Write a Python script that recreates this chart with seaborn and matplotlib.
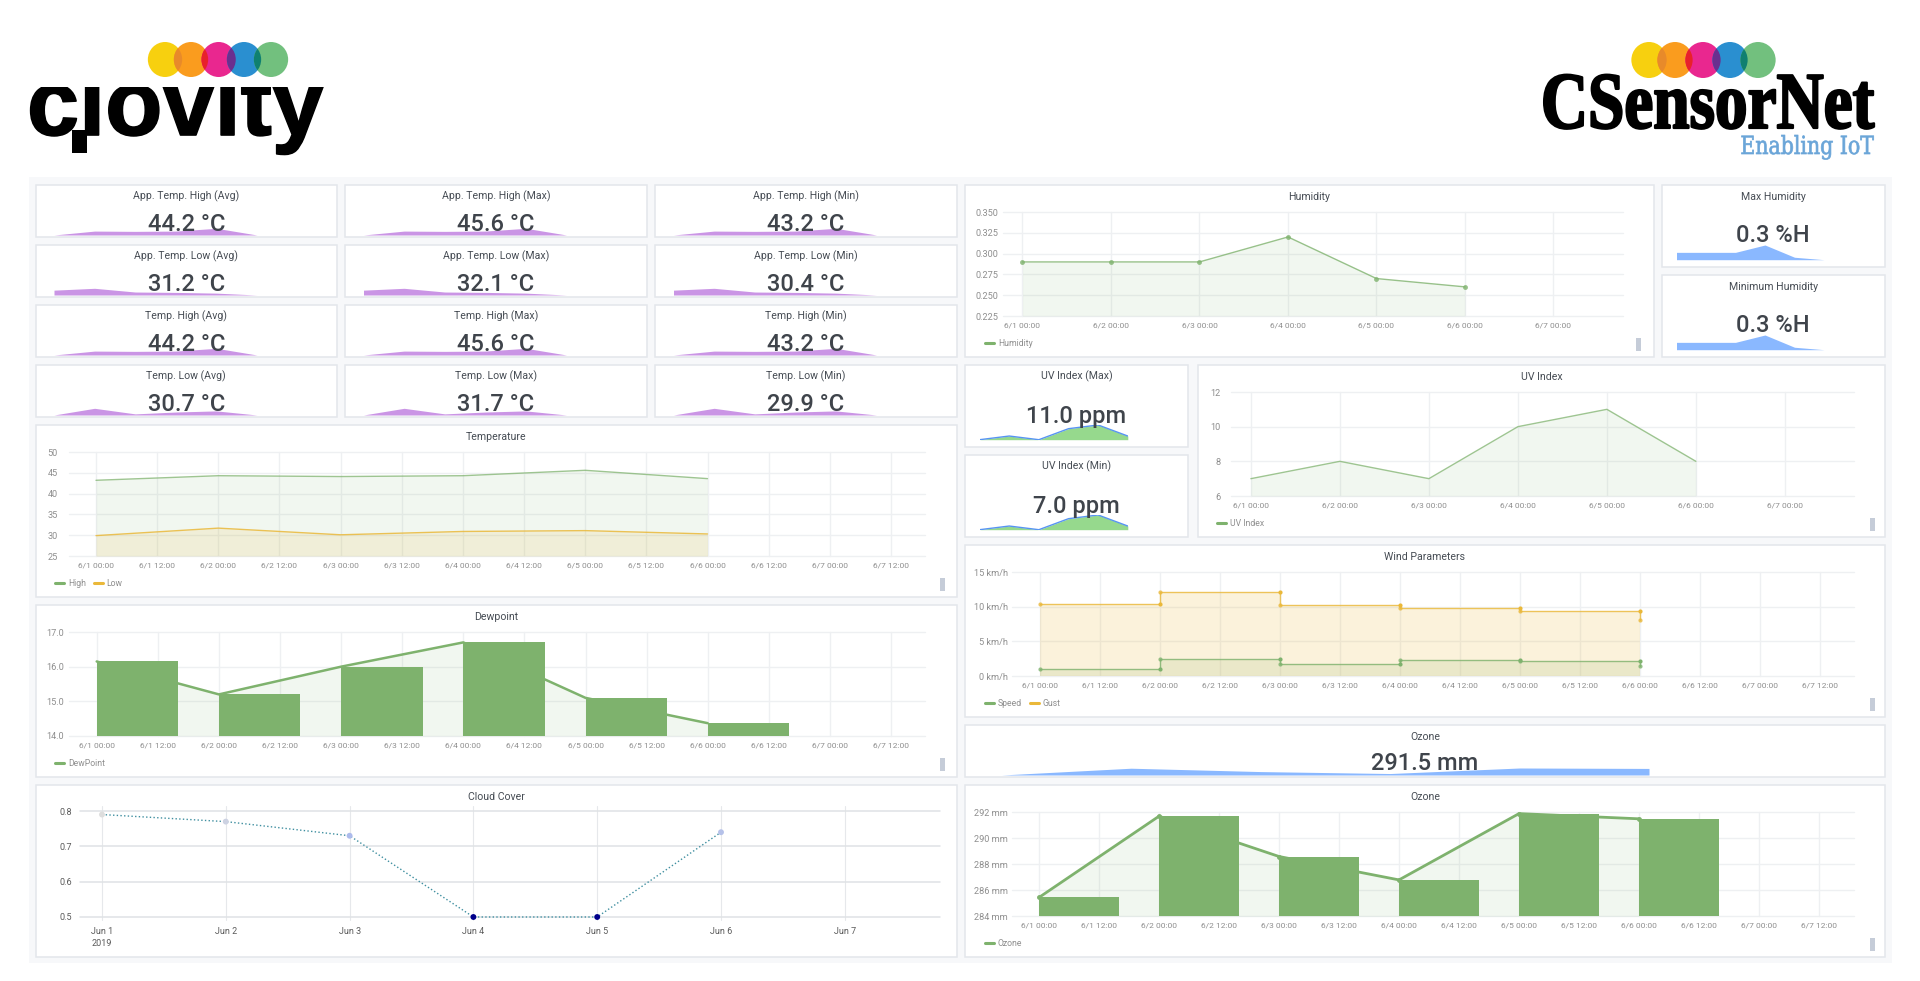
import numpy as np
import seaborn as sns
import matplotlib.pyplot as plt
import matplotlib.patheffects as pe
from matplotlib.lines import Line2D
from matplotlib.patches import Ellipse, Rectangle
from matplotlib.transforms import Affine2D

W, H = 1920, 981

days = np.arange(6)
temp_high = [43.2, 44.3, 44.1, 44.3, 45.6, 43.6]
temp_low = [29.9, 31.7, 30.1, 30.9, 31.1, 30.3]
dewpoint = [16.15, 15.2, 16.0, 16.7, 15.1, 14.37]
cloud_cover = [0.79, 0.77, 0.73, 0.5, 0.5, 0.74]
humidity = [0.29, 0.29, 0.29, 0.32, 0.27, 0.26]
uv_index = [7, 8, 7, 10, 11, 8]
wind_speed = [1.0, 2.5, 1.73, 2.26, 2.1, 1.5]
wind_gust = [10.4, 12.1, 10.2, 9.75, 9.35, 8.1]
ozone = [285.45, 291.7, 288.6, 286.8, 291.9, 291.5]

spark_high = [43.2, 44.6, 44.5, 44.6, 45.6, 43.2]
spark_low = [31.2, 31.7, 30.7, 30.6, 30.4, 29.9]
spark_low2 = [29.9, 31.7, 30.2, 30.7, 31.0, 29.9]

stat_titles = [
    ["App. Temp. High (Avg)", "App. Temp. High (Max)", "App. Temp. High (Min)"],
    ["App. Temp. Low (Avg)", "App. Temp. Low (Max)", "App. Temp. Low (Min)"],
    ["Temp. High (Avg)", "Temp. High (Max)", "Temp. High (Min)"],
    ["Temp. Low (Avg)", "Temp. Low (Max)", "Temp. Low (Min)"],
]
stat_values = [
    ["44.2 °C", "45.6 °C", "43.2 °C"],
    ["31.2 °C", "32.1 °C", "30.4 °C"],
    ["44.2 °C", "45.6 °C", "43.2 °C"],
    ["30.7 °C", "31.7 °C", "29.9 °C"],
]
stat_sparks = [spark_high, spark_low, spark_high, spark_low2]

half_day_labels = ["6/1 00:00", "6/1 12:00", "6/2 00:00", "6/2 12:00", "6/3 00:00", "6/3 12:00", "6/4 00:00",
                   "6/4 12:00", "6/5 00:00", "6/5 12:00", "6/6 00:00", "6/6 12:00", "6/7 00:00", "6/7 12:00"]
day_labels = ["6/1 00:00", "6/2 00:00", "6/3 00:00", "6/4 00:00", "6/5 00:00", "6/6 00:00", "6/7 00:00"]
cloud_labels = ["Jun 1\n2019", "Jun 2", "Jun 3", "Jun 4", "Jun 5", "Jun 6", "Jun 7"]

GREEN = "#7eb26d"
YELLOW = "#eab839"
BLUE_FILL = "#8ab8ff"
PURPLE = "#ca95e5"
TITLE = "#464c54"
TICK = "#8e8e8e"
GRID = "#eef0f2"
BORDER = "#e3e6eb"
FONT = "Roboto"

sns.set_theme(style="whitegrid")
plt.rcParams["font.family"] = [FONT, "DejaVu Sans"]
plt.rcParams["axes.axisbelow"] = True

fig = plt.figure(figsize=(W / 100, H / 100), dpi=100, facecolor="white")


def pixel_axes(x0, y0, x1, y1, zorder=2):
    ax = fig.add_axes([x0 / W, 1 - y1 / H, (x1 - x0) / W, (y1 - y0) / H], zorder=zorder)
    ax.patch.set_alpha(0)
    return ax


canvas = pixel_axes(0, 0, W, H, zorder=0)
canvas.set_xlim(0, W)
canvas.set_ylim(H, 0)
canvas.axis("off")
top = pixel_axes(0, 0, W, H, zorder=10)
top.set_xlim(0, W)
top.set_ylim(H, 0)
top.axis("off")


class Squeeze(pe.AbstractPathEffect):
    # narrows text around a pixel column, the logos use condensed faces
    def __init__(self, sx, cx, stroke=0):
        super().__init__()
        self.sx, self.cx, self.stroke = sx, cx, stroke

    def draw_path(self, renderer, gc, tpath, affine, rgbFace=None):
        squeeze = Affine2D().translate(-self.cx, 0).scale(self.sx, 1).translate(self.cx, 0)
        gc0 = renderer.new_gc()
        gc0.copy_properties(gc)
        gc0.set_linewidth(self.stroke)
        gc0.set_foreground(rgbFace)
        renderer.draw_path(gc0, tpath, affine + squeeze, rgbFace)
        gc0.restore()


def panel(x0, y0, x1, y1, title):
    canvas.add_patch(Rectangle((x0, y0), x1 - x0, y1 - y0, fc="white", ec=BORDER, lw=1.1))
    canvas.text((x0 + x1) / 2, y0 + 11.5, title, ha="center", va="center", fontsize=7.6, color=TITLE)


def handle(x0, y0):
    canvas.add_patch(Rectangle((x0, y0), 4.5, 13, fc="#c5ccd8", ec="none"))


def style_chart(ax, xlim, ylim, xticks, xlabels, yticks, ylabels, pad=4):
    ax.set_xlim(*xlim)
    ax.set_ylim(*ylim)
    ax.set_xticks(xticks, xlabels)
    ax.set_yticks(yticks, ylabels)
    ax.grid(True, color=GRID, lw=1, clip_on=False)
    ax.tick_params(axis="x", length=0, pad=4.5, labelsize=6, labelcolor=TICK)
    ax.tick_params(axis="y", length=0, pad=pad, labelsize=6.6, labelcolor=TICK)
    sns.despine(ax=ax, left=True, bottom=True)
    ax.set_xlabel("")
    ax.set_ylabel("")


def chart_xlim(x0, x1, tick0, day_px):
    return (x0 - tick0) / day_px, (x1 - tick0) / day_px


def add_legend(ax, x, y, names, colors):
    handles = [Line2D([], [], color=c, lw=2.2, label=n) for n, c in zip(names, colors)]
    ax.legend(handles=handles, loc="center left", bbox_to_anchor=(x, y), bbox_transform=canvas.transData,
              ncol=len(names), frameon=False, fontsize=6.2, labelcolor=TICK, borderpad=0, borderaxespad=0,
              handlelength=1.1, handletextpad=0.4, columnspacing=0.9)


def spark(x0, x1, y_top, y_base, values, fill, line=None):
    ax = pixel_axes(x0, y_top, x1, y_base, zorder=3)
    ax.fill_between(days, values, min(values), color=fill, lw=0)
    if line:
        sns.lineplot(x=days, y=values, color=line, linewidth=1, errorbar=None, ax=ax)
    ax.set_xlim(0, 5)
    ax.set_ylim(min(values), max(values))
    ax.axis("off")


def big_value(x, y, text):
    top.text(x, y + 2, text, ha="center", va="center", fontsize=17, fontweight="medium", color="#3f444b")


# logos
def circles(centers, y, d):
    fills = ["#f7d00f", "#fa9c1e", "#e9278f", "#2a8fd0", "#72c07e"]
    overlaps = ["#e88a2a", "#e8212a", "#6a2f8f", "#0f8070"]
    for cx, c in zip(centers, fills):
        canvas.add_patch(Ellipse((cx, y), d * 0.98, d, fc=c, ec="none", zorder=3))
    for i, c in enumerate(overlaps):
        left = Ellipse((centers[i], y), d * 0.98, d, fc="none", ec="none", zorder=3)
        canvas.add_patch(left)
        lens = Ellipse((centers[i + 1], y), d * 0.98, d, fc=c, ec="none", zorder=4)
        canvas.add_patch(lens)
        lens.set_clip_path(left)


canvas.text(27, 135, "clovity", fontsize=67.5, fontweight="bold", family="Liberation Sans", color="black",
            va="baseline", path_effects=[pe.withStroke(linewidth=1.2, foreground="black")], zorder=1)
canvas.add_patch(Rectangle((20, 40), 310, 47, fc="white", ec="none", zorder=2))
canvas.add_patch(Rectangle((72, 130), 15, 23, fc="black", ec="none", zorder=2))
circles([165, 191, 218.6, 244, 271], 59.5, 35)

canvas.text(1874, 128, "CSensorNet", fontsize=58, fontweight="bold", family="Liberation Serif", color="black",
            ha="right", va="baseline", path_effects=[Squeeze(0.81, 1874, stroke=1.6)], zorder=1)
canvas.text(1874, 154, "Enabling IoT", fontsize=18, family="DejaVu Serif", color="#6aa5d8",
            ha="right", va="baseline", path_effects=[Squeeze(0.82, 1874, stroke=0.5)], zorder=1)
circles([1649, 1675, 1703, 1730, 1758], 60, 36)

# dashboard background
canvas.add_patch(Rectangle((29, 177), 1863, 786, fc="#f7f8fa", ec="none"))

# stat cards, left block
card_x = [(35.5, 337), (345, 647), (655, 956.5)]
card_y = [185, 245, 305, 365]
for r, y0 in enumerate(card_y):
    for c, (x0, x1) in enumerate(card_x):
        panel(x0, y0, x1, y0 + 52, stat_titles[r][c])
        spark(x0 + 18.5, x0 + 221.5, y0 + 43.3, y0 + 50, stat_sparks[r], PURPLE)
        big_value((x0 + x1) / 2, y0 + 37.3, stat_values[r][c])

half_ticks = np.arange(14) * 0.5
day_ticks = np.arange(7)

# temperature
panel(35.5, 425, 956.5, 597, "Temperature")
handle(940, 578)
ax = pixel_axes(69, 452, 925, 556)
ax.fill_between(days, temp_high, 25, color=GREEN, alpha=0.1, lw=0)
ax.fill_between(days, temp_low, 25, color=YELLOW, alpha=0.13, lw=0)
sns.lineplot(x=days, y=temp_high, color=GREEN, linewidth=1, alpha=0.75, errorbar=None, ax=ax)
sns.lineplot(x=days, y=temp_low, color=YELLOW, linewidth=1, alpha=0.85, errorbar=None, ax=ax)
style_chart(ax, chart_xlim(69, 925, 96, 122.3), (25, 50), half_ticks, half_day_labels,
            [25, 30, 35, 40, 45, 50], ["25", "30", "35", "40", "45", "50"], pad=8)
add_legend(ax, 55, 584, ["High", "Low"], [GREEN, YELLOW])

# dewpoint
panel(35.5, 605, 956.5, 777, "Dewpoint")
handle(940, 758)
ax = pixel_axes(69, 632, 925, 736)
ax.fill_between(days, dewpoint, 14, color=GREEN, alpha=0.1, lw=0)
sns.lineplot(x=days, y=dewpoint, color=GREEN, linewidth=1.8, errorbar=None, clip_on=False, ax=ax)
sns.barplot(x=days + 1 / 3, y=dewpoint, native_scale=True, width=2 / 3, color=GREEN, saturation=1, linewidth=0,
            zorder=3, ax=ax)
style_chart(ax, chart_xlim(69, 925, 96.7, 122.2), (14, 17), half_ticks, half_day_labels,
            [14, 15, 16, 17], ["14.0", "15.0", "16.0", "17.0"], pad=3.5)
add_legend(ax, 55, 764, ["DewPoint"], [GREEN])

# cloud cover
panel(35.5, 785, 956.5, 957, "Cloud Cover")
ax = pixel_axes(80, 806, 940, 920)
sns.lineplot(x=days, y=cloud_cover, color="#3f8fa0", linewidth=1, linestyle=":", errorbar=None, ax=ax)
sns.scatterplot(x=days, y=cloud_cover, hue=cloud_cover, hue_norm=(0.5, 0.79), legend=False, s=18, linewidth=0, zorder=4,
                palette=sns.blend_palette(["#00008b", "#5a76e0", "#8fa6f5", "#dddddd"], as_cmap=True), ax=ax)
style_chart(ax, chart_xlim(80, 940, 102, 123.8), (0.4915, 0.8142), day_ticks, cloud_labels,
            [0.5, 0.6, 0.7, 0.8], ["0.5", "0.6", "0.7", "0.8"], pad=5.5)
ax.grid(True, axis="y", color="#dfe2e5", lw=1.1)
ax.grid(True, axis="x", color="#e6e8eb", lw=0.8)
ax.tick_params(axis="both", labelsize=6.5, labelcolor="#5a5a5a")
ax.tick_params(axis="x", pad=5)
for label in ax.get_xticklabels():
    label.set_linespacing(1.5)

# humidity
panel(965, 185, 1654, 357, "Humidity")
handle(1636, 338)
ax = pixel_axes(1003, 212, 1622.6, 316)
ax.fill_between(days, humidity, 0.225, color=GREEN, alpha=0.1, lw=0)
sns.lineplot(x=days, y=humidity, color=GREEN, linewidth=1, alpha=0.8, marker="o", markersize=3.5, markeredgewidth=0,
             errorbar=None, ax=ax)
style_chart(ax, chart_xlim(1003, 1622.6, 1022.5, 88.5), (0.225, 0.35), day_ticks, day_labels,
            [0.225, 0.25, 0.275, 0.3, 0.325, 0.35], ["0.225", "0.250", "0.275", "0.300", "0.325", "0.350"], pad=3.5)
add_legend(ax, 985, 344, ["Humidity"], [GREEN])

panel(1662, 185, 1885, 267, "Max Humidity")
spark(1676.5, 1824, 245, 259.7, humidity, BLUE_FILL)
big_value(1773, 234, "0.3 %H")
panel(1662, 275, 1885, 357, "Minimum Humidity")
spark(1676.5, 1824, 335, 349.7, humidity, BLUE_FILL)
big_value(1773, 324, "0.3 %H")

# uv
panel(965, 365, 1188, 447, "UV Index (Max)")
spark(979.6, 1127.8, 425, 439.7, uv_index, "#96d98d", line="#5794f2")
big_value(1076, 415, "11.0 ppm")
panel(965, 455, 1188, 537, "UV Index (Min)")
spark(979.6, 1127.8, 515, 529.7, uv_index, "#96d98d", line="#5794f2")
big_value(1076, 505, "7.0 ppm")

panel(1198, 365, 1885, 537, "UV Index")
handle(1870, 518)
ax = pixel_axes(1230.7, 392, 1854, 496)
ax.fill_between(days, uv_index, 6, color=GREEN, alpha=0.1, lw=0)
sns.lineplot(x=days, y=uv_index, color=GREEN, linewidth=1, alpha=0.75, errorbar=None, ax=ax)
style_chart(ax, chart_xlim(1230.7, 1854, 1250.9, 89), (6, 12), day_ticks, day_labels,
            [6, 8, 10, 12], ["6", "8", "10", "12"], pad=7.5)
add_legend(ax, 1217, 524, ["UV Index"], [GREEN])

# wind
panel(965, 545, 1885, 717, "Wind Parameters")
handle(1870, 698)
ax = pixel_axes(1012, 572, 1854, 676)
ax.fill_between(days, wind_speed, 0, step="post", color=GREEN, alpha=0.15, lw=0)
ax.fill_between(days, wind_gust, 0, step="post", color=YELLOW, alpha=0.18, lw=0)
for series, color in [(wind_speed, GREEN), (wind_gust, YELLOW)]:
    sns.lineplot(x=days, y=series, color=color, linewidth=1, alpha=0.8, drawstyle="steps-post", marker="o",
                 markersize=3, markeredgewidth=0, errorbar=None, ax=ax)
    sns.scatterplot(x=days[1:], y=series[:-1], color=color, s=9, linewidth=0, zorder=4, ax=ax)
style_chart(ax, chart_xlim(1012, 1854, 1039.6, 120), (0, 15), half_ticks, half_day_labels,
            [0, 5, 10, 15], ["0 km/h", "5 km/h", "10 km/h", "15 km/h"], pad=3)
add_legend(ax, 985, 704, ["Speed", "Gust"], [GREEN, YELLOW])

# ozone
panel(965, 725, 1885, 777, "Ozone")
spark(1001.6, 1649, 768, 775, ozone, BLUE_FILL)
big_value(1425, 761, "291.5 mm")

panel(965, 785, 1885, 957, "Ozone")
handle(1870, 938)
ax = pixel_axes(1012, 812.3, 1854, 916.3)
ax.fill_between(days, ozone, 284, color=GREEN, alpha=0.1, lw=0)
sns.lineplot(x=days, y=ozone, color=GREEN, linewidth=2, marker="o", markersize=3.5, markeredgewidth=0,
             errorbar=None, clip_on=False, ax=ax)
sns.barplot(x=days + 1 / 3, y=ozone, native_scale=True, width=2 / 3, color=GREEN, saturation=1, linewidth=0,
            zorder=3, ax=ax)
style_chart(ax, chart_xlim(1012, 1854, 1039, 120), (284, 292), half_ticks, half_day_labels,
            [284, 286, 288, 290, 292], ["284 mm", "286 mm", "288 mm", "290 mm", "292 mm"], pad=3)
add_legend(ax, 985, 944, ["Ozone"], [GREEN])

fig.savefig("out.png", dpi=100, facecolor="white")
